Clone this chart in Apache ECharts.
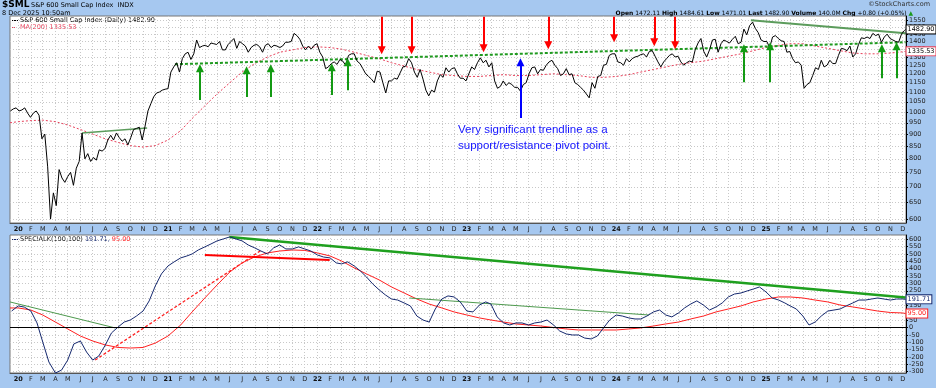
<!DOCTYPE html>
<html><head><meta charset="utf-8">
<script src="https://cdn.jsdelivr.net/npm/echarts@6/dist/echarts.min.js"></script>
<style>html,body{margin:0;padding:0;background:#a6c8f0;}#c{width:936px;height:388px;}</style>
</head><body><div id="c"></div>
<script>
// ---------- DATA ----------
const priceFirstFriday = '2019-12-13';          // weekly closes, one per Friday
const priceWeekly = [1005,1015,1020,
1005,1010,1020,995,975, 995,1005,985,880, 900,770,600,680, 640,760,730,715, 735,750,705,765,790, 905,800,820,790, 805,795,835,830,840, 875,895,875,905, 885,870,880,855, 885,920,925,930,875, 935,1005,1040,1075, 1095,1100,1110,1115,
1118,1210,1240,1265,1210, 1290,1320,1330,1285, 1320,1410,1360,1370, 1375,1365,1390,1385,1380, 1400,1345,1345,1380, 1400,1420,1355,1400, 1385,1370,1330,1360,1375, 1380,1365,1330,1375, 1385,1360,1375,1370, 1360,1370,1395,1395,1400, 1455,1440,1415,1370, 1345,1370,1350,1375,1385,
1330,1300,1230,1240, 1260,1270,1255,1285, 1275,1250,1310,1320, 1320,1275,1260,1230,1200, 1185,1170,1150,1215, 1210,1150,1095,1160, 1160,1175,1170,1205,1240, 1245,1290,1265,1210, 1180,1225,1170,1110,1080, 1110,1100,1160,1195, 1180,1235,1210,1230, 1235,1200,1175,1175,1160,
1200,1240,1225,1265, 1295,1265,1280,1240, 1265,1160,1120,1130,1160, 1135,1150,1140,1125, 1125,1105,1140,1150, 1200,1235,1240,1200,1225, 1220,1250,1270,1280, 1250,1230,1190,1200, 1230,1195,1200,1150,1140, 1125,1110,1090,1070, 1150,1120,1185,1190, 1250,1255,1310,1320,1320,
1270,1265,1250,1290, 1270,1290,1300,1305, 1315,1320,1300,1335,1340, 1305,1270,1240,1270, 1290,1310,1320,1300,1305, 1270,1250,1265,1275, 1270,1345,1390,1420, 1335,1300,1345,1410,1415, 1330,1385,1410,1400, 1390,1415,1435,1385, 1395,1485,1445,1510,1535, 1490,1460,1410,1400,
1400,1360,1430,1440,1420, 1405,1400,1330,1335, 1290,1265,1270,1250, 1120,1140,1150,1190, 1235,1225,1280,1240,1250, 1280,1260,1260,1310, 1355,1350,1340,1370, 1300,1320,1380,1425,1420, 1430,1420,1455,1440, 1450,1395,1430,1450,1420, 1410,1400,1395,1450, 1475];
const lastDate = '2025-12-08';
const priceLast = 1482.90;

// MA(200): first value, then 1st of each month Jan-2020..Dec-2025, then last
const maFirstDate = '2019-12-12';
const ma200Monthly = [950,
955,960,962,955,940,920,900,880,865,852,846,852,
875,915,970,1030,1090,1150,1210,1260,1300,1330,1345,1360,
1365,1360,1350,1330,1310,1290,1265,1245,1225,1210,1195,1190,
1185,1185,1190,1195,1190,1190,1195,1200,1195,1190,1180,1180,
1185,1195,1210,1225,1240,1255,1265,1275,1290,1305,1320,1340,
1360,1375,1385,1385,1370,1355,1340,1325,1320,1320,1325,1333];
const ma200Last = 1335.53;

// SPECIALK(100,100): 16-Dec-2019, then 1st & 16th of each month
const specialK = [112,147,139,112,31,-99,-235,-310,-290,-222,
-112,-92,-167,-222,-194,-119,-37,3,37,51,
78,112,181,283,365,419,447,474,487,501,
528,549,569,590,603,617,603,590,562,542,
521,501,542,562,535,535,549,535,521,494,
480,474,440,433,447,419,385,344,297,256,
222,194,187,167,147,78,51,37,126,194,
215,208,174,112,106,153,174,160,72,31,
17,31,31,17,31,37,51,17,-24,-44,
-51,-51,-72,-78,-58,-3,51,85,78,65,
58,58,78,106,119,85,72,99,133,160,
181,153,119,140,167,208,228,235,249,262,
276,242,201,187,167,147,126,78,17,37,
78,112,119,126,147,167,187,187,194,201,
194,187,194,194];
const specialKLast = 191.71;
// signal line: 12-Dec-2019 then 1st of each month
const signalMonthly = [133,
133,119,85,37,-10,-58,-92,-119,-136,-140,-136,-106,
-58,17,106,201,290,378,440,481,508,521,528,525,
508,487,453,406,365,324,276,235,194,160,133,106,
85,65,51,37,24,17,10,0,-10,-17,-17,-17,
-17,-10,-3,10,24,37,58,78,106,126,147,174,
194,208,208,201,187,174,153,140,126,112,102,99];
const signalLast = 95.00;

// price panel annotations
const trendDotted = [['2021-01-18',1256],['2025-12-08',1395]];
const trend2020 = [['2020-06-05',905],['2020-11-11',927]];
const trend2025 = [['2024-11-25',1549],['2025-12-08',1456]];
const redArrowDates = ['2022-06-07','2022-08-19','2023-02-11','2023-07-19','2023-12-27','2024-04-03','2024-05-24'];
const redArrowFrom  = [1575,1575,1575,1575,1575,1575,1575];
const redArrowTo    = [1342,1342,1355,1375,1422,1395,1375];
const greenArrowDates = ['2021-03-20','2021-07-12','2021-09-09','2022-02-05','2022-03-16','2024-11-08','2025-01-11','2025-10-11','2025-11-16'];
const greenArrowFrom  = [1059,1074,1074,1084,1110,1153,1153,1175,1175];
const greenArrowTo    = [1232,1221,1232,1238,1268,1355,1369,1355,1369];
const blueArrow = ['2023-05-12', 972, 1268];
// indicator panel annotations
const kGreenLong = [['2021-05-31',617],['2025-12-08',205]];
const kGreenLeft = [['2019-12-12',174],['2020-08-25',-3]];
const kGreenMid  = [['2022-08-14',201],['2024-03-21',85]];
const kRedSolid  = [['2021-04-01',494],['2022-01-31',460]];
const kRedDotted = [['2020-07-07',-222],['2021-08-18',528]];

const priceTicks = [600,650,700,750,800,850,900,950,1000,1050,1100,1150,1200,1250,1300,1350,1400,1450,1500,1550];
const kTicks = [-300,-250,-200,-150,-100,-50,0,50,100,150,200,250,300,350,400,450,500,550,600];
const monthLetters = ['J','F','M','A','M','J','J','A','S','O','N','D'];

// ---------- BUILD ----------
const L = Math.log;
const pad = n => (n < 10 ? '0' : '') + n;
const DAY = 86400000;
const T = d => new Date(d.replace(/-/g, '/')).getTime();
const t0 = T(priceFirstFriday);
const priceData = priceWeekly.map((v, i) => [t0 + i*7*DAY, L(v)]);
priceData.push([T(lastDate), L(priceLast)]);

const monthStarts = [];
for (let y = 2020; y <= 2025; y++) for (let m = 1; m <= 12; m++) monthStarts.push(y + '-' + pad(m) + '-01');
const monthTicks = monthStarts.map(T);
const maData = [[T(maFirstDate), L(ma200Monthly[0])]].concat(monthTicks.map((t, i) => [t, L(ma200Monthly[i+1])]));
maData.push([T(lastDate), L(ma200Last)]);

const semi = ['2019-12-16'];
for (let y = 2020; y <= 2025; y++) for (let m = 1; m <= 12; m++) { semi.push(y+'-'+pad(m)+'-01'); if (!(y===2025 && m===12)) semi.push(y+'-'+pad(m)+'-16'); }
const kData = specialK.map((v, i) => [T(semi[i]), v]); kData.push([T(lastDate), specialKLast]);
const sigData = [[T(maFirstDate), signalMonthly[0]]].concat(monthTicks.map((t, i) => [t, signalMonthly[i+1]]));
sigData.push([T(lastDate), signalLast]);

const FONT = 'DejaVu Sans';
const xMin = T('2019-12-12'), xMax = T('2025-12-09');

function xAxisFor(grid) {
  return {
    type: 'value', gridIndex: grid, min: xMin, max: xMax,
    axisLine: { show: true, onZero: false, lineStyle: { color: '#555', width: 1 } },
    axisTick: { show: false, customValues: monthTicks },
    axisLabel: {
      customValues: monthTicks, margin: 3, fontSize: 6.5, fontFamily: FONT, color: '#222',
      formatter: v => { const d = new Date(v); return d.getMonth() === 0 ? '{y|' + String(d.getFullYear()).slice(2) + '}' : monthLetters[d.getMonth()]; },
      rich: { y: { fontWeight: 'bold', fontSize: 6.5, fontFamily: FONT, color: '#111' } }
    },
    splitLine: { show: true, lineStyle: { color: '#c8c8c8', type: [1, 2], width: 1 } }
  };
}
function seg(pts, isLog) { return pts.map(p => [T(p[0]), isLog ? L(p[1]) : p[1]]); }
function lineSeries(data, x, y, color, width, type, extra) {
  return Object.assign({ type: 'line', xAxisIndex: x, yAxisIndex: y, data, symbol: 'none', silent: true, animation: false,
    lineStyle: { color, width, type: type || 'solid' }, z: 3 }, extra || {});
}
function boxLabel(text, border, color) {
  return { show: true, formatter: () => text, distance: 1, fontSize: 6.5, fontFamily: FONT, color: color || '#000',
    backgroundColor: '#fff', borderColor: border, borderWidth: 1, padding: [1, 1, 0, 1] };
}
const arrows = [];
redArrowDates.forEach((d, i) => arrows.push([{ coord: [T(d), L(redArrowFrom[i])], lineStyle: { color: '#ff0000' } }, { coord: [T(d), L(redArrowTo[i])] }]));
greenArrowDates.forEach((d, i) => arrows.push([{ coord: [T(d), L(greenArrowFrom[i])], lineStyle: { color: '#139a13' } }, { coord: [T(d), L(greenArrowTo[i])] }]));
arrows.push([{ coord: [T(blueArrow[0]), L(blueArrow[1])], lineStyle: { color: '#0000ff' } }, { coord: [T(blueArrow[0]), L(blueArrow[2])] }]);

const chart = echarts.init(document.getElementById('c'), null, { renderer: 'canvas' });
chart.setOption({
  animation: false,
  backgroundColor: '#a6c8f0',
  grid: [
    { left: 10, right: 30, top: 16, height: 207, show: true, backgroundColor: '#fff', borderColor: '#777', borderWidth: 1 },
    { left: 10, right: 30, top: 235, height: 138, show: true, backgroundColor: '#fff', borderColor: '#777', borderWidth: 1 }
  ],
  xAxis: [xAxisFor(0), xAxisFor(1)],
  yAxis: [
    { type: 'value', gridIndex: 0, position: 'right', min: L(589), max: L(1581),
      axisLine: { show: true, lineStyle: { color: '#000' } },
      axisTick: { show: true, length: 2, customValues: priceTicks.map(L), lineStyle: { color: '#000' } },
      axisLabel: { customValues: priceTicks.map(L), margin: 3, fontSize: 6.5, fontFamily: FONT, color: '#222', formatter: v => String(Math.round(Math.exp(v))) },
      splitLine: { show: true, lineStyle: { color: '#c8c8c8', type: [1, 2] } } },
    { type: 'value', gridIndex: 1, position: 'right', min: -310, max: 630,
      axisLine: { show: true, lineStyle: { color: '#000' } },
      axisTick: { show: true, length: 2, customValues: kTicks, lineStyle: { color: '#000' } },
      axisLabel: { customValues: kTicks, margin: 3, fontSize: 6.5, fontFamily: FONT, color: '#222' },
      splitLine: { show: true, lineStyle: { color: '#c8c8c8', type: [1, 2] } } }
  ],
  series: [
    lineSeries(maData, 0, 0, '#e8405a', 1, [2, 2], { endLabel: boxLabel('1335.53', '#e8405a') }),
    lineSeries(seg(trendDotted, true), 0, 0, '#1f9a1f', 2, [3, 2]),
    lineSeries(seg(trend2020, true), 0, 0, '#5c9c5c', 1.5),
    lineSeries(seg(trend2025, true), 0, 0, '#5c9c5c', 2),
    lineSeries(priceData, 0, 0, '#000', 1, 'solid', {
      z: 4, endLabel: boxLabel('1482.90', '#000'),
      markLine: { silent: true, animation: false, symbol: ['none', 'triangle'], symbolSize: [8, 8],
        label: { show: false }, lineStyle: { width: 2, type: 'solid' }, data: arrows }
    }),
    lineSeries(kData, 1, 1, '#15286e', 1, 'solid', {
      z: 4, endLabel: boxLabel('191.71', '#15286e', '#15286e'),
      markLine: { silent: true, animation: false, symbol: 'none', label: { show: false },
        lineStyle: { color: '#000', width: 1, type: 'solid' }, data: [{ yAxis: 0 }] }
    }),
    lineSeries(sigData, 1, 1, '#ff2020', 1, 'solid', { endLabel: boxLabel('95.00', '#ff2020', '#ff2020') }),
    lineSeries(seg(kGreenLong), 1, 1, '#1fa01f', 2.5),
    lineSeries(seg(kGreenLeft), 1, 1, '#4e9a4e', 1),
    lineSeries(seg(kGreenMid), 1, 1, '#4e9a4e', 1.2),
    lineSeries(seg(kRedSolid), 1, 1, '#ff0000', 2),
    lineSeries(seg(kRedDotted), 1, 1, '#ff2020', 1.3, [3, 2])
  ],
  graphic: [
    { type: 'text', left: 2, top: 0, style: { text: '$SML', fontSize: 9, fontWeight: 'bold', fontFamily: FONT, fill: '#000' } },
    { type: 'text', left: 31, top: 2, style: { text: 'S&P 600 Small Cap Index  INDX', fontSize: 6.5, fontFamily: FONT, fill: '#000' } },
    { type: 'text', left: 2, top: 10, style: { text: '8 Dec 2025 10:50am', fontSize: 6.5, fontFamily: FONT, fill: '#000' } },
    { type: 'text', right: 6, top: 1, style: { text: '©StockCharts.com', fontSize: 6.5, fontFamily: FONT, fill: '#333' } },
    { type: 'text', right: 23, top: 10, style: {
        text: '{b|Open} 1472.11 {b|High} 1484.61 {b|Low} 1471.01 {b|Last} 1482.90 {b|Volume} 140.0M {b|Chg} +0.80 (+0.05%) {g|▲}',
        fontSize: 6, fontFamily: FONT, fill: '#000',
        rich: { b: { fontWeight: 'bold', fontSize: 6, fontFamily: FONT }, g: { fill: '#1a9a1a', fontSize: 6, fontFamily: FONT } } } },
    { type: 'line', shape: { x1: 12, y1: 20.5, x2: 18, y2: 20.5 }, style: { stroke: '#000', lineWidth: 1 } },
    { type: 'text', left: 20, top: 17, style: { text: 'S&P 600 Small Cap Index (Daily) 1482.90', fontSize: 6.5, fontFamily: FONT, fill: '#000' } },
    { type: 'line', shape: { x1: 12, y1: 27.5, x2: 18, y2: 27.5 }, style: { stroke: '#e8405a', lineWidth: 1, lineDash: [1, 1] } },
    { type: 'text', left: 20, top: 24, style: { text: 'MA(200) 1335.53', fontSize: 6.5, fontFamily: FONT, fill: '#e8405a' } },
    { type: 'line', shape: { x1: 12, y1: 239.5, x2: 18, y2: 239.5 }, style: { stroke: '#15286e', lineWidth: 1 } },
    { type: 'text', left: 20, top: 236, style: {
        text: 'SPECIALK(100,100) {n|191.71,} {r|95.00}', fontSize: 6.5, fontFamily: FONT, fill: '#111',
        rich: { n: { fill: '#15286e', fontSize: 6.5, fontFamily: FONT }, r: { fill: '#ff2020', fontSize: 6.5, fontFamily: FONT } } } },
    { type: 'text', left: 458, top: 122, z: 10, style: {
        text: 'Very significant trendline as a\nsupport/resistance pivot point.', fontSize: 11.5, lineHeight: 16,
        fontFamily: 'Liberation Sans', fill: '#1414ff' } }
  ]
});
</script></body></html>
